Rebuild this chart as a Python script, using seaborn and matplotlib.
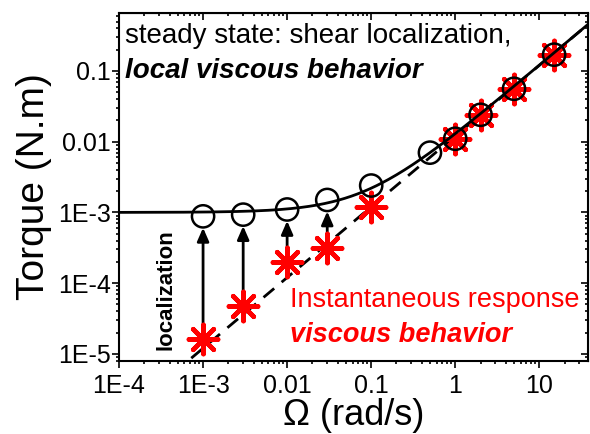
import numpy as np
import pandas as pd
import matplotlib
matplotlib.use("Agg")
import matplotlib.pyplot as plt
from matplotlib import ticker
import seaborn as sns

# steady state torque (open circles)
omega_steady = [1e-3, 3e-3, 0.01, 0.03, 0.1, 0.5, 1, 2, 5, 15]
torque_steady = [8.8e-4, 9.3e-4, 1.1e-3, 1.5e-3, 2.4e-3, 7.0e-3, 0.011, 0.024, 0.056, 0.17]

# instantaneous response (red asterisks)
omega_inst = [1e-3, 3e-3, 0.01, 0.03, 0.1, 1, 2, 5, 15]
torque_inst = [1.6e-5, 4.7e-5, 2.0e-4, 3.1e-4, 1.2e-3, 0.011, 0.024, 0.056, 0.17]

# arrows drawn at these rates
omega_arrows = [1e-3, 3e-3, 0.01, 0.03]

# model: T = T0 + eta * Omega (solid), T = eta * Omega (dashed)
yield_torque = 1e-3
viscosity = 0.012

x_ticks = [1e-4, 1e-3, 0.01, 0.1, 1, 10]
x_tick_labels = ["1E-4", "1E-3", "0.01", "0.1", "1", "10"]
y_ticks = [1e-5, 1e-4, 1e-3, 0.01, 0.1]
y_tick_labels = ["1E-5", "1E-4", "1E-3", "0.01", "0.1"]

sns.set_style("ticks", {"axes.edgecolor": "black", "text.color": "black",
                        "axes.labelcolor": "black", "xtick.color": "black",
                        "ytick.color": "black"})
plt.rcParams["font.family"] = ["Liberation Sans", "DejaVu Sans"]

fig = plt.figure(figsize=(5.9, 4.34), dpi=100)
ax = fig.add_axes([0.2017, 0.168, 0.795, 0.802])
ax.set_xscale("log")
ax.set_yscale("log")

xmin, xmax = 1e-4, 38
om = np.logspace(np.log10(xmin), np.log10(xmax), 300)
model = pd.DataFrame({"om": om,
                      "steady": yield_torque + viscosity * om,
                      "inst": viscosity * om})

sns.lineplot(data=model, x="om", y="inst", ax=ax, color="black", lw=2,
             dashes=False, linestyle=(0, (5, 3.5)), zorder=2)

for xo in omega_arrows:
    y0 = torque_inst[omega_inst.index(xo)]
    y1 = torque_steady[omega_steady.index(xo)]
    ax.annotate("", xy=(xo, y1 / 1.45), xytext=(xo, y0),
                arrowprops=dict(arrowstyle="-|>,head_length=0.8,head_width=0.35",
                                color="black", lw=2, shrinkA=0, shrinkB=0),
                zorder=3)

sns.scatterplot(x=omega_inst, y=torque_inst, ax=ax, marker=(8, 2, 0),
                s=21 ** 2, color="red", linewidth=3.3, zorder=4)
sns.scatterplot(x=omega_steady, y=torque_steady, ax=ax, marker="o",
                s=16 ** 2, facecolor="none", edgecolor="black",
                linewidth=1.8, zorder=5)
sns.lineplot(data=model, x="om", y="steady", ax=ax, color="black", lw=2,
             zorder=6)

ax.set_xlim(xmin, xmax)
ax.set_ylim(7.9e-6, 0.66)

ax.set_xticks(x_ticks, x_tick_labels)
ax.set_yticks(y_ticks, y_tick_labels)
ax.xaxis.set_minor_locator(ticker.LogLocator(base=10, subs=np.arange(2, 10), numticks=20))
ax.yaxis.set_minor_locator(ticker.LogLocator(base=10, subs=np.arange(2, 10), numticks=20))
ax.xaxis.set_minor_formatter(ticker.NullFormatter())
ax.yaxis.set_minor_formatter(ticker.NullFormatter())

ax.tick_params(which="both", direction="out", width=1.2, labelsize=18,
               top=False, right=False, colors="black")
ax.tick_params(which="major", length=5)
ax.tick_params(which="minor", length=2.5)
ax.tick_params(axis="x", pad=4)
ax.tick_params(axis="y", pad=1)

# inward mirror ticks on top and right
for twin_axis in ("x", "y"):
    if twin_axis == "x":
        sec = ax.secondary_xaxis("top")
        sec.set_xticks(x_ticks)
        sec.xaxis.set_minor_locator(ticker.LogLocator(base=10, subs=np.arange(2, 10), numticks=20))
        sec.xaxis.set_major_formatter(ticker.NullFormatter())
        sec.xaxis.set_minor_formatter(ticker.NullFormatter())
    else:
        sec = ax.secondary_yaxis("right")
        sec.set_yticks(y_ticks)
        sec.yaxis.set_minor_locator(ticker.LogLocator(base=10, subs=np.arange(2, 10), numticks=20))
        sec.yaxis.set_major_formatter(ticker.NullFormatter())
        sec.yaxis.set_minor_formatter(ticker.NullFormatter())
    sec.tick_params(which="both", direction="in", width=1.2, colors="black")
    sec.tick_params(which="major", length=5)
    sec.tick_params(which="minor", length=2.5)

for sp in ax.spines.values():
    sp.set_linewidth(1.5)
    sp.set_color("black")
    sp.set_visible(True)

ax.set_xlabel("Ω (rad/s)", fontsize=26, labelpad=0, color="black")
ax.set_ylabel("Torque (N.m)", fontsize=28, labelpad=4, color="black")

ax.text(0.013, 0.914, "steady state: shear localization,", transform=ax.transAxes,
        fontsize=20, va="baseline", ha="left", color="black")
ax.text(0.013, 0.813, "local viscous behavior", transform=ax.transAxes,
        fontsize=20, va="baseline", ha="left", fontweight="bold",
        fontstyle="italic", color="black")
ax.text(0.365, 0.155, "Instantaneous response", transform=ax.transAxes,
        fontsize=19.5, va="baseline", ha="left", color="red")
ax.text(0.365, 0.055, "viscous behavior", transform=ax.transAxes,
        fontsize=19.5, va="baseline", ha="left", color="red",
        fontweight="bold", fontstyle="italic")
ax.text(0.100, 0.204, "localization", transform=ax.transAxes, fontsize=16,
        rotation=90, ha="center", va="center", fontweight="bold", color="black")

fig.savefig("out.png", dpi=100)
